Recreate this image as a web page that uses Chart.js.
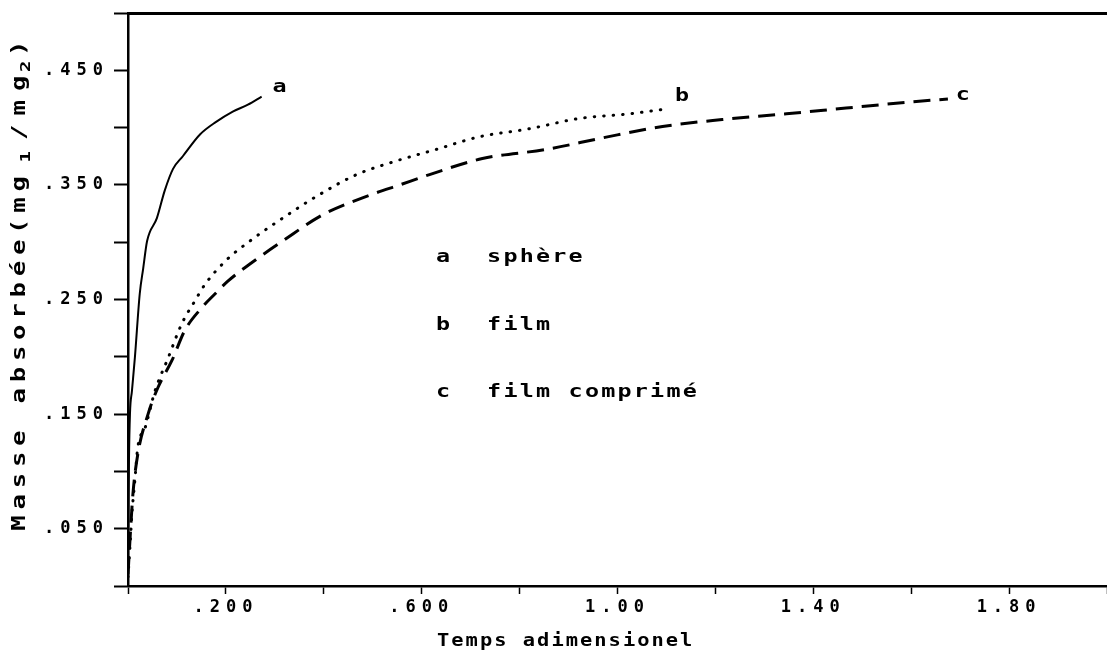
<!DOCTYPE html>
<html>
<head>
<meta charset="utf-8">
<script src="https://cdn.jsdelivr.net/npm/chart.js@4"></script>
<style>
  html, body { margin: 0; padding: 0; background: #fff; overflow: hidden; }
  #wrap { width: 1107px; height: 659px; position: relative; }
</style>
</head>
<body>
<div id="wrap"><canvas id="chart"></canvas></div>
<script>
// a : sphère (solid)
const sphereT = [0, 0.001, 0.002, 0.004, 0.008, 0.014, 0.024, 0.031, 0.039, 0.059, 0.075, 0.092, 0.112, 0.147, 0.18, 0.214, 0.245, 0.273];
const sphereM = [0.01, 0.06, 0.11, 0.15, 0.17, 0.199, 0.255, 0.277, 0.301, 0.321, 0.345, 0.364, 0.375, 0.394, 0.405, 0.414, 0.42, 0.427];

// b : film (dotted)
const filmT = [0, 0.004, 0.008, 0.014, 0.02, 0.035, 0.055, 0.082, 0.11, 0.137, 0.157, 0.2, 0.249, 0.316, 0.385, 0.467, 0.541, 0.63, 0.718, 0.82, 0.922, 1.024, 1.095];
const filmM = [0.008, 0.034, 0.063, 0.092, 0.121, 0.138, 0.17, 0.199, 0.229, 0.249, 0.263, 0.284, 0.301, 0.321, 0.34, 0.359, 0.37, 0.381, 0.392, 0.399, 0.408, 0.412, 0.416];

// c : film comprimé (dashed)
const compT = [0, 0.004, 0.01, 0.02, 0.041, 0.061, 0.09, 0.116, 0.151, 0.178, 0.204, 0.249, 0.316, 0.398, 0.5, 0.555, 0.616, 0.724, 0.855, 0.969, 1.092, 1.214, 1.345, 1.467, 1.59, 1.675];
const compM = [0.01, 0.04, 0.08, 0.115, 0.15, 0.173, 0.197, 0.223, 0.243, 0.255, 0.266, 0.281, 0.301, 0.324, 0.342, 0.35, 0.359, 0.373, 0.381, 0.391, 0.401, 0.407, 0.412, 0.417, 0.422, 0.425];

const xTickValues = [0.2, 0.6, 1.0, 1.4, 1.8];
const xTickLabels = ['.200', '.600', '1.00', '1.40', '1.80'];
const yTickValues = [0.05, 0.15, 0.25, 0.35, 0.45];
const yTickLabels = ['.050', '.150', '.250', '.350', '.450'];

const curveKeys = ['a', 'b', 'c'];
const curveNames = ['sphère', 'film', 'film comprimé'];
const xTitle = 'Temps adimensionel';
// y title pieces: [text, subscript?]
const yTitle = [['Masse absorbée(mg', false], ['1', true], ['/mg', false], ['2', true], [')', false]];

const FONT = '"DejaVu Sans Mono", monospace';

const toPts = (xs, ys) => xs.map((x, i) => ({ x: x, y: ys[i] }));
const pick = (vals, labels) => (v) => {
  const i = vals.findIndex(t => Math.abs(t - v) < 1e-6);
  return i < 0 ? '' : labels[i];
};

// draw a string as fixed-pitch cells with wide glyphs
const cells = (ctx, str, left, base, pitch, sx) => {
  for (let i = 0; i < str.length; i++) {
    ctx.save();
    ctx.translate(left + i * pitch + pitch / 2, base);
    ctx.scale(sx, 1);
    ctx.textAlign = 'center';
    ctx.textBaseline = 'alphabetic';
    ctx.fillText(str[i], 0, 0);
    ctx.restore();
  }
};

const spacing = {
  id: 'spacing',
  beforeDraw(c) { c.ctx.letterSpacing = '6px'; },
  beforeDatasetsDraw(c) { c.ctx.letterSpacing = '0px'; }
};

const texts = {
  id: 'texts',
  afterDraw(c) {
    const ctx = c.ctx;
    const xs = c.scales.x, ys = c.scales.y;
    ctx.save();
    ctx.letterSpacing = '0px';
    ctx.fillStyle = '#000';

    // labels at curve ends
    ctx.font = 'bold 18px ' + FONT;
    const ends = [[sphereT, sphereM, 18, -5], [filmT, filmM, 18, -8], [compT, compM, 15, 1]];
    ends.forEach((e, i) => {
      const n = e[0].length - 1;
      const px = xs.getPixelForValue(e[0][n]) + e[2];
      const py = ys.getPixelForValue(e[1][n]) + e[3];
      cells(ctx, curveKeys[i], px - 8, py, 16, 1.3);
    });

    // legend block
    const rows = [262, 330, 397];
    rows.forEach((b, i) => {
      cells(ctx, curveKeys[i], 435, b, 16, 1.3);
      cells(ctx, curveNames[i], 486, b, 16.3, 1.3);
    });

    // x title
    ctx.font = 'bold 17px ' + FONT;
    cells(ctx, xTitle, 436, 646, 14.3, 1.2);

    // y title, rotated
    ctx.save();
    ctx.translate(25, 533);
    ctx.rotate(-Math.PI / 2);
    let u = 0;
    const steps = [21.2, 27, 24.5, 17, 18];
    yTitle.forEach((seg, k) => {
      const [s, sub] = seg;
      ctx.font = (sub ? 'bold 14px ' : 'bold 19px ') + FONT;
      for (let i = 0; i < s.length; i++) {
        if (k > 0 || i > 0) u += (i === 0 ? steps[k] : (k === 2 ? 24.5 : 21.2));
        ctx.save();
        ctx.translate(u + 10, sub ? 5 : 0);
        ctx.scale(1.35, 1);
        ctx.textAlign = 'center';
        ctx.fillText(s[i], 0, 0);
        ctx.restore();
      }
    });
    ctx.restore();
    ctx.restore();
  }
};

const tickFont = { family: FONT, weight: 'bold', size: 17 };

new Chart(document.getElementById('chart'), {
  type: 'line',
  data: {
    datasets: [
      { label: 'a', data: toPts(sphereT, sphereM), borderColor: '#000', borderWidth: 2,
        pointRadius: 0, cubicInterpolationMode: 'monotone', fill: false },
      { label: 'b', data: toPts(filmT, filmM), borderColor: '#000', borderWidth: 3,
        borderDash: [0.5, 9], borderCapStyle: 'round', pointRadius: 0, cubicInterpolationMode: 'monotone', fill: false },
      { label: 'c', data: toPts(compT, compM), borderColor: '#000', borderWidth: 3,
        borderDash: [17, 9], pointRadius: 0, cubicInterpolationMode: 'monotone', fill: false }
    ]
  },
  options: {
    responsive: true,
    maintainAspectRatio: false,
    animation: false,
    events: [],
    layout: { padding: { top: 13, left: 0, right: 0, bottom: 0 } },
    plugins: { legend: { display: false }, tooltip: { enabled: false } },
    scales: {
      x: {
        type: 'linear', position: 'bottom', min: 0, max: 2,
        afterFit(s) { s.height = 73; s.paddingLeft = 0; s.paddingRight = 0; },
        ticks: { stepSize: 0.2, autoSkip: false, maxRotation: 0, padding: 3, color: '#000',
                 font: tickFont, callback: pick(xTickValues, xTickLabels) },
        grid: { drawOnChartArea: false, tickLength: 8, tickColor: '#000', tickWidth: 1.5 },
        border: { color: '#000', width: 2.5 }
      },
      top: {
        type: 'linear', position: 'top', min: 0, max: 2,
        afterFit(s) { s.height = 0; },
        ticks: { display: false },
        grid: { drawOnChartArea: false, drawTicks: false },
        border: { display: true, color: '#000', width: 3 }
      },
      y: {
        type: 'linear', position: 'left', min: 0, max: 0.5,
        afterFit(s) { s.width = 128; s.paddingTop = 0; s.paddingBottom = 0; },
        ticks: { stepSize: 0.05, autoSkip: false, padding: 5, color: '#000',
                 font: tickFont, callback: pick(yTickValues, yTickLabels) },
        grid: { drawOnChartArea: false, tickLength: 14, tickColor: '#000', tickWidth: 2 },
        border: { color: '#000', width: 2.5 }
      }
    }
  },
  plugins: [spacing, texts]
});
</script>
</body>
</html>
